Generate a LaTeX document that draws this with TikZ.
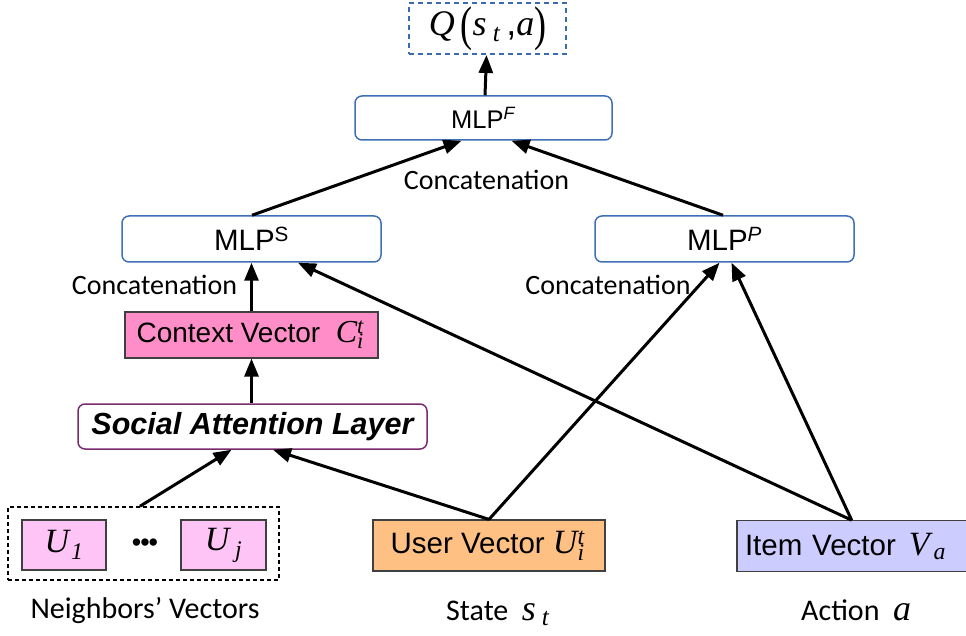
\documentclass[tikz,border=0pt]{standalone}
\usepackage{fontspec}
\usepackage{graphicx}
\setmainfont{Liberation Sans}
\newfontfamily\lblfont{Carlito}
\newfontfamily\mserif{Liberation Serif}
\newcommand{\mv}[1]{{\mserif\itshape #1}}
\newcommand{\msub}[1]{\textsubscript{\mserif\itshape #1}}
\newcommand{\msupsub}[2]{\rlap{\textsuperscript{\mserif\itshape #1}}\textsubscript{\mserif\itshape #2}\kern0.08em}
\newcommand{\bigparen}[1]{\raisebox{-0.12em}{\scalebox{1}[1.35]{\mserif #1}}}
\usetikzlibrary{arrows.meta,calc}
\definecolor{qblue}{HTML}{3A6BAE}
\definecolor{mlpblue}{HTML}{3F6FB5}
\definecolor{ctxpink}{HTML}{FF8EC8}
\definecolor{upink}{HTML}{FFC4F6}
\definecolor{userorange}{HTML}{FFC083}
\definecolor{itemblue}{HTML}{CCCCFF}
\definecolor{salpurple}{HTML}{7A2B6F}
\begin{document}
\begin{tikzpicture}[x=1pt,y=-1pt,
  mlpbox/.style={draw=mlpblue,line width=1.5pt,rounded corners=7pt,fill=white,
    minimum width=259pt,minimum height=46pt,inner sep=0pt,
    font=\fontsize{29.5}{32}\selectfont},
  vecbox/.style={draw=black!75,line width=1.2pt,inner sep=0pt,
    font=\fontsize{29.5}{32}\selectfont},
  lbl/.style={font=\lblfont\fontsize{28}{30}\selectfont,inner sep=0pt},
  blbl/.style={font=\lblfont\fontsize{30}{32}\selectfont,inner sep=0pt},
  conn/.style={line width=3pt,-{Triangle[length=18pt,width=14pt]}}]
\useasboundingbox (0,0) rectangle (966,636);

% nodes
\node[draw=qblue,line width=2pt,dash pattern=on 5pt off 4pt,minimum width=157pt,minimum height=51pt,inner sep=0pt,
  font=\fontsize{36}{38}\selectfont] (q) at (487.5,28.5)
  {\mv{Q}\,\bigparen{(}\mv{s}\,\msub{t}\,,\mv{a}\bigparen{)}};
\node[mlpbox,minimum width=257pt,minimum height=44pt,font=\fontsize{25.5}{28}\selectfont] (mlpf) at (483.5,118) {MLP\textsuperscript{\textit{F}}};
\node[mlpbox] (mlps) at (251.5,239) {MLP\textsuperscript{S}};
\node[mlpbox] (mlpp) at (724.5,239) {MLP\textsuperscript{\textit{P}}};
\node[vecbox,fill=ctxpink,minimum width=253pt,minimum height=46pt,font=\fontsize{28}{32}\selectfont] (ctx) at (251.5,335)
  {Context Vector\ \ {\fontsize{32}{34}\selectfont\mv{C}\msupsub{t}{i}}};
\node[draw=salpurple,line width=1.5pt,rounded corners=7pt,fill=white,minimum width=349pt,minimum height=45pt,
  inner sep=0pt,font=\fontsize{30.5}{32}\selectfont\bfseries\itshape] (sal) at (252.5,426.5) {Social Attention Layer};
\node[draw=black,line width=1.5pt,dash pattern=on 4pt off 3pt,minimum width=271pt,minimum height=73pt] (nb) at (143.5,543.5) {};
\node[vecbox,fill=upink,minimum width=84pt,minimum height=50pt,font=\fontsize{34}{36}\selectfont] (u1) at (64,545) {\mv{U}\kern0.06em\msub{1}};
\node[vecbox,fill=upink,minimum width=85pt,minimum height=50pt,font=\fontsize{34}{36}\selectfont] (uj) at (223.5,545) {\mv{U}\,\msub{j}};
\node[font=\fontsize{27}{29}\selectfont,inner sep=0pt] (dots) at (145,545) {\textbullet\kern-1pt\textbullet\kern-1pt\textbullet};
\node[vecbox,fill=userorange,minimum width=232pt,minimum height=51pt] (user) at (489,545.5)
  {User Vector {\fontsize{34}{36}\selectfont\mv{U}\msupsub{t}{i}}};
\node[vecbox,fill=itemblue,minimum width=238pt,minimum height=51pt,text width=226pt,align=left] (item) at (856,546.3)
  {\hspace*{2pt}Item Vector\hspace{13pt}{\fontsize{34}{36}\selectfont\mv{V}\kern0.12em\msub{a}}};

% labels
\node[lbl] (c1) at (486.5,180) {Concatenation};
\node[lbl] (c2) at (154.5,285) {Concatenation};
\node[lbl] (c3) at (608,285) {Concatenation};
\node[blbl] (l1) at (145,610) {Neighbors’ Vectors};
\node[blbl,anchor=base west] (l2) at (446,620) {State\ \ {\fontsize{36}{38}\selectfont\mv{s}\,\msub{t}}};
\node[blbl,anchor=base west] (l3) at (801,620) {Action\ \ {\fontsize{36}{38}\selectfont\mv{a}}};

% connectors
\draw[conn] ([xshift=1.5pt]mlpf.north) -- ([xshift=-1pt]q.south);
\draw[conn] ([xshift=0.5pt]mlps.north) -- ([xshift=-22pt]mlpf.south);
\draw[conn] ([xshift=-1.5pt]mlpp.north) -- ([xshift=28pt]mlpf.south);
\draw[conn] (ctx.north) -- (ctx.north |- mlps.south);
\draw[conn] (sal.north -| ctx.north) -- (ctx.south);
\draw[conn] ([xshift=-3.5pt]nb.north) -- ([xshift=-21pt]sal.south);
\draw[conn] (user.north) -- ([xshift=20.5pt]sal.south);
\draw[conn] (user.north) -- ([xshift=-5pt]mlpp.south);
\draw[conn] ([xshift=-4.3pt]item.north) -- ([xshift=7pt]mlpp.south);
\draw[conn] ([xshift=-4.3pt]item.north) -- ([xshift=46.5pt]mlps.south);
\end{tikzpicture}
\end{document}
